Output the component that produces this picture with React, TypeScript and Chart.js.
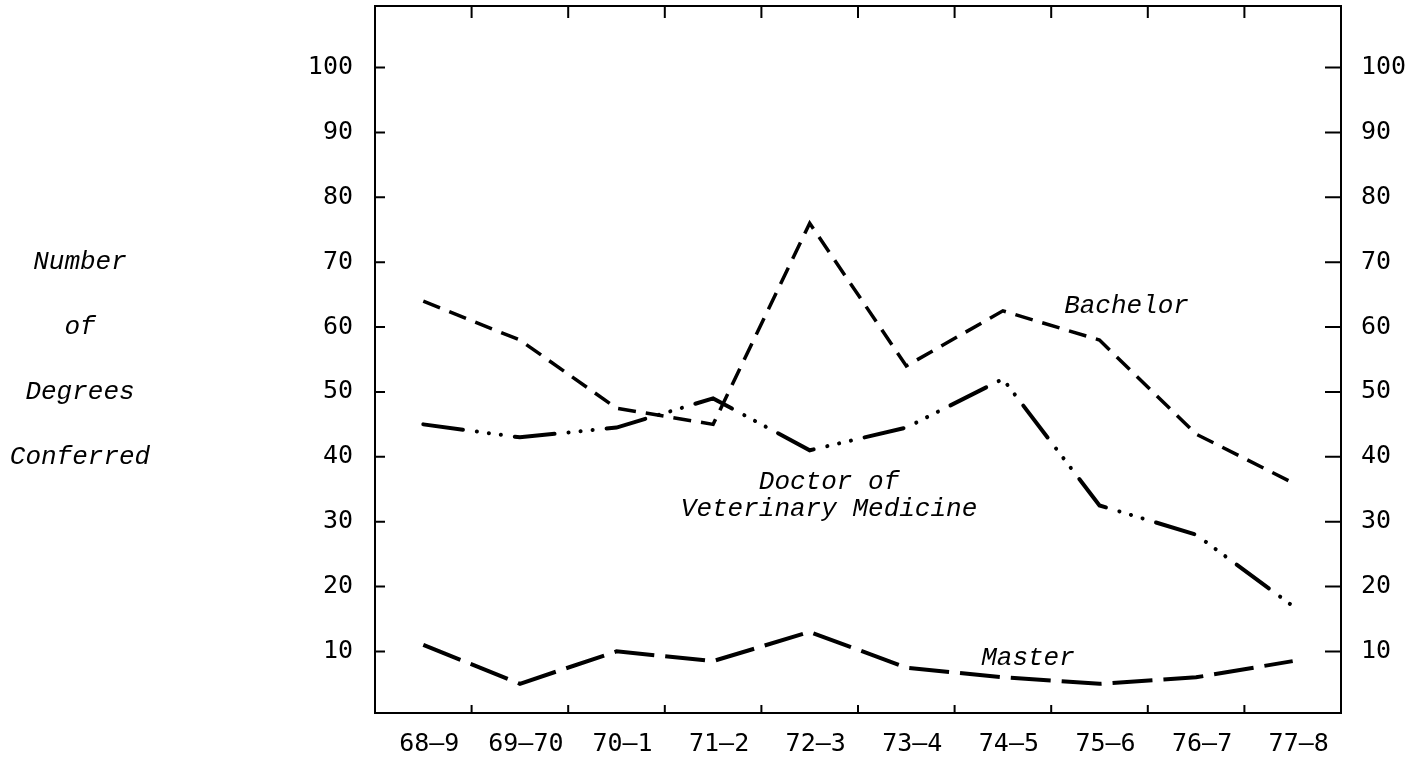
import React, { useEffect, useRef } from "react";
import { Chart, registerables } from "chart.js";

Chart.register(...registerables);

const CATEGORIES = ["68–9", "69–70", "70–1", "71–2", "72–3", "73–4", "74–5", "75–6", "76–7", "77–8"];
const BACHELOR = [64, 58, 47.5, 45, 76, 54, 62.5, 58, 43.5, 36];
const DOCTOR = [45, 43, 44.5, 49, 41, 44.5, 52, 32.5, 28, 17];
const MASTER = [11, 5, 10, 8.5, 13, 7.5, 6, 5, 6, 8.5];
const Y_TICKS = [10, 20, 30, 40, 50, 60, 70, 80, 90, 100];
const Y_MIN = 0.5;
const Y_MAX = 109.5;

const Y_TITLE_LINES = ["Number", "of", "Degrees", "Conferred"];
const Y_TITLE_ROWS = [70, 60, 50, 40];

const SERIES_NOTES = [
  { lines: ["Bachelor"], index: 7.28, value: 62.2 },
  { lines: ["Doctor of", "Veterinary Medicine"], index: 4.2, value: 35.1 },
  { lines: ["Master"], index: 6.26, value: 7.9 },
];

const INK = "#000";
const TICK_FONT = { family: "'DejaVu Sans Mono', monospace", size: 25 };
const NOTE_FONT = "italic 26px 'Liberation Mono', monospace";

const decorPlugin = {
  id: "decor",
  afterDraw(chart: any) {
    const { ctx, chartArea, scales } = chart;
    const { left, right, top, bottom } = chartArea;
    const x = scales.x;
    const y = scales.y;
    ctx.save();
    ctx.strokeStyle = INK;
    ctx.lineWidth = 2;
    ctx.lineCap = "butt";
    ctx.beginPath();
    ctx.moveTo(left - 1, top);
    ctx.lineTo(right + 1, top);
    y.ticks.forEach((t: any) => {
      const py = y.getPixelForValue(t.value);
      ctx.moveTo(left, py);
      ctx.lineTo(left + 10, py);
      ctx.moveTo(right - 16, py);
      ctx.lineTo(right, py);
    });
    for (let i = 1; i < CATEGORIES.length; i++) {
      const px = (x.getPixelForValue(i - 1) + x.getPixelForValue(i)) / 2;
      ctx.moveTo(px, bottom);
      ctx.lineTo(px, bottom - 8);
      ctx.moveTo(px, top);
      ctx.lineTo(px, top + 12);
    }
    ctx.stroke();

    ctx.fillStyle = INK;
    ctx.font = NOTE_FONT;
    ctx.textAlign = "center";
    ctx.textBaseline = "alphabetic";
    SERIES_NOTES.forEach((note) => {
      const px = x.getPixelForValue(note.index);
      const py = y.getPixelForValue(note.value);
      note.lines.forEach((line, k) => {
        ctx.fillText(line, px, py + k * 27);
      });
    });

    ctx.textBaseline = "middle";
    Y_TITLE_LINES.forEach((line, k) => {
      const py = y.getPixelForValue(Y_TITLE_ROWS[k]);
      ctx.fillText(line, 80, py);
    });
    ctx.restore();
  },
};

const yScale = (position: "left" | "right", width: number) => ({
  type: "linear" as const,
  position,
  min: Y_MIN,
  max: Y_MAX,
  afterBuildTicks(scale: any) {
    scale.ticks = Y_TICKS.map((v) => ({ value: v }));
  },
  afterFit(scale: any) {
    scale.width = width;
    scale.paddingTop = 0;
    scale.paddingBottom = 0;
  },
  grid: { display: false, drawTicks: false },
  border: { display: true, color: INK, width: 2 },
  ticks: { color: INK, font: TICK_FONT, padding: position === "left" ? 22 : 20 },
});

export default function App() {
  const ref = useRef<HTMLCanvasElement | null>(null);

  useEffect(() => {
    if (!ref.current) return;
    const chart = new Chart(ref.current, {
      type: "line",
      data: {
        labels: CATEGORIES,
        datasets: [
          {
            label: "Bachelor",
            data: BACHELOR,
            borderColor: INK,
            borderWidth: 3.5,
            borderDash: [18, 10],
            borderCapStyle: "butt",
            pointRadius: 0,
            tension: 0,
            fill: false,
          },
          {
            label: "Doctor of Veterinary Medicine",
            data: DOCTOR,
            borderColor: INK,
            borderWidth: 4,
            borderDash: [40, 14, 0.1, 12, 0.1, 12, 0.1, 14],
            borderCapStyle: "round",
            pointRadius: 0,
            tension: 0,
            fill: false,
          },
          {
            label: "Master",
            data: MASTER,
            borderColor: INK,
            borderWidth: 4,
            borderDash: [40, 11],
            borderCapStyle: "butt",
            pointRadius: 0,
            tension: 0,
            fill: false,
          },
        ],
      },
      options: {
        responsive: false,
        animation: false,
        layout: { padding: { top: 6, left: 0, right: 0, bottom: 0 } },
        plugins: {
          legend: { display: false },
          tooltip: { enabled: false },
          title: { display: false },
        },
        scales: {
          x: {
            type: "category",
            position: "bottom",
            offset: true,
            afterFit(scale: any) {
              scale.height = 50;
              scale.paddingLeft = 0;
              scale.paddingRight = 0;
            },
            grid: { display: false, drawTicks: false },
            border: { display: true, color: INK, width: 2 },
            ticks: { color: INK, font: TICK_FONT, padding: 16, labelOffset: 6, maxRotation: 0, autoSkip: false },
          },
          y: yScale("left", 375),
          y2: yScale("right", 81),
        },
      },
      plugins: [decorPlugin],
    } as any);
    return () => chart.destroy();
  }, []);

  return (
    <div style={{ position: "absolute", left: 0, top: 0, width: 1422, height: 763, background: "#fff" }}>
      <canvas ref={ref} width={1422} height={763} style={{ display: "block" }} />
    </div>
  );
}
